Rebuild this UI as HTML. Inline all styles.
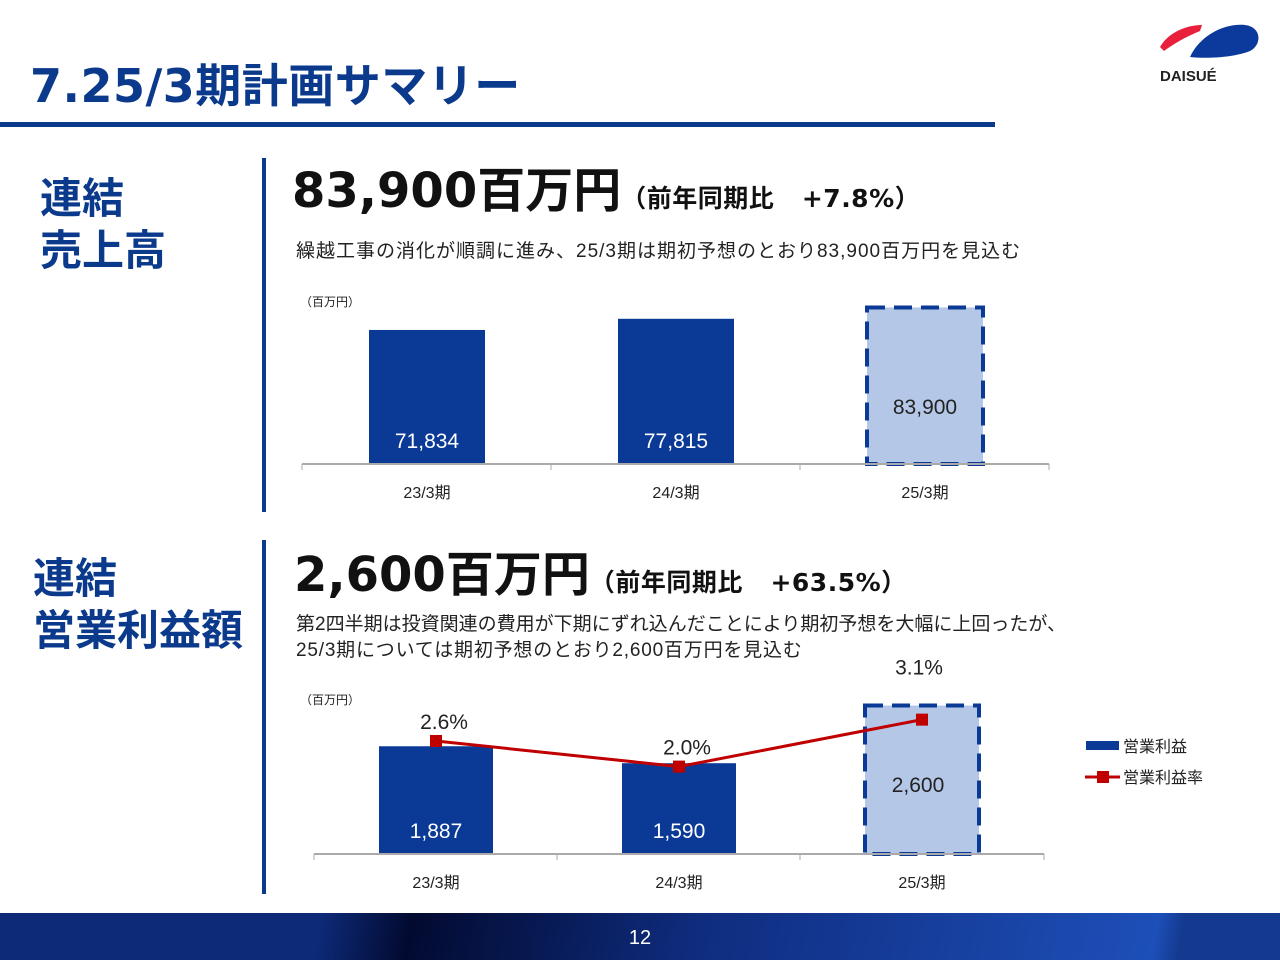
<!DOCTYPE html>
<html><head><meta charset="utf-8">
<style>
body{margin:0;width:1280px;height:960px;position:relative;overflow:hidden;background:#fff;font-family:"Liberation Sans","Noto Sans CJK JP",sans-serif;}
.a{position:absolute;white-space:nowrap;}
</style></head><body>
<div class="a" style="left:30px;top:50px;font-size:46px;font-weight:bold;color:#0b3a8c;font-family:'DejaVu Sans','Noto Sans CJK JP',sans-serif;letter-spacing:0.5px;">7.25/3期計画サマリー</div>
<div class="a" style="left:0;top:122px;width:995px;height:5px;background:#0b3a8c;"></div>
<svg class="a" style="left:1150px;top:15px" width="120" height="70">
<path d="M10,32 C20,15 40,10 52,10 L50,16 C35,22 22,30 14,36 Z" fill="#e8203c"/>
<path d="M40,42 C50,20 75,8 95,10 C112,12 112,30 100,36 C85,42 60,44 40,42 Z" fill="#0b3a9c"/>
<text x="10" y="66" font-size="15" font-weight="bold" fill="#222" font-family="Liberation Sans">DAISUÉ</text>
</svg>
<div class="a" style="left:40px;top:173px;font-size:42px;font-weight:bold;color:#0b3a8c;line-height:52px;">連結<br>売上高</div>
<div class="a" style="left:262px;top:158px;width:4px;height:354px;background:#0b3a8c;"></div>
<div class="a" style="left:292px;top:151px;font-size:48px;font-weight:bold;color:#111;font-family:'DejaVu Sans','Noto Sans CJK JP',sans-serif;">83,900百万円<span style="font-size:25px;letter-spacing:0.5px;">（前年同期比&nbsp;&nbsp; +7.8%）</span></div>
<div class="a" style="left:296px;top:236px;font-size:19px;color:#222;letter-spacing:1px;">繰越工事の消化が順調に進み、25/3期は期初予想のとおり83,900百万円を見込む</div>
<div class="a" style="left:33px;top:553px;font-size:42px;font-weight:bold;color:#0b3a8c;line-height:52px;">連結<br>営業利益額</div>
<div class="a" style="left:262px;top:540px;width:4px;height:354px;background:#0b3a8c;"></div>
<div class="a" style="left:294px;top:535px;font-size:48px;font-weight:bold;color:#111;font-family:'DejaVu Sans','Noto Sans CJK JP',sans-serif;">2,600百万円<span style="font-size:25px;letter-spacing:0.5px;">（前年同期比&nbsp;&nbsp; +63.5%）</span></div>
<div class="a" style="left:296px;top:612px;font-size:19px;color:#222;line-height:26px;">第2四半期は投資関連の費用が下期にずれ込んだことにより期初予想を大幅に上回ったが、<br><span style="letter-spacing:0.8px">25/3期については期初予想のとおり2,600百万円を見込む</span></div>
<svg class="a" id="charts" style="left:0;top:0" width="1280" height="960"></svg>
<div class="a" style="left:0;top:913px;width:1280px;height:47px;background:linear-gradient(100deg,#0d2a78 0%,#0d2a78 25%,#020a30 32%,#0f2d80 55%,#1d4fb8 90%,#143a90 92%,#143a90 100%);"></div>
<div class="a" style="left:620px;top:927px;width:40px;text-align:center;font-size:20px;color:#fff;">12</div>
<script>
const cats=["23/3期","24/3期","25/3期"];
const sales=[71834,77815,83900];
const salesLabels=["71,834","77,815","83,900"];
const profit=[1887,1590,2600];
const profitLabels=["1,887","1,590","2,600"];
const margin=[2.6,2.0,3.1];
const marginLabels=["2.6%","2.0%","3.1%"];
const NS="http://www.w3.org/2000/svg";
const svg=document.getElementById('charts');
function mk(t,a,p){const e=document.createElementNS(NS,t);for(const k in a)e.setAttribute(k,a[k]);(p||svg).appendChild(e);return e;}
function txt(x,y,s,size,fill,anchor){const e=mk('text',{x:x,y:y,'font-size':size,fill:fill,'text-anchor':anchor||'middle','font-family':'Liberation Sans, Noto Sans CJK JP, sans-serif'});e.textContent=s;return e;}
const x1=i=>427+i*249, base1=464, y1=v=>base1-v*0.001866, bw1=116;
txt(300,306,"（百万円）",12,"#222","start");
sales.forEach((v,i)=>{
 const fc=i==2;
 const r=mk('rect',{x:x1(i)-bw1/2,y:y1(v),width:bw1,height:base1-y1(v),fill:fc?'#b4c7e7':'#0b3a96',stroke:fc?'#0b3a96':'none','stroke-width':fc?4:0,'stroke-dasharray':fc?'18,9':'none'});
 
 
 const t=txt(x1(i),fc?414:448,salesLabels[i],21,fc?'#222':'#fff');
 
 const c=txt(x1(i),498,cats[i],16,'#222');
 
});
mk('line',{x1:302,x2:1049,y1:base1,y2:base1,stroke:'#aaa','stroke-width':2});
[302,551,800,1049].forEach(x=>mk('line',{x1:x,x2:x,y1:base1,y2:base1+6,stroke:'#aaa'}));
const x2=i=>436+i*243, base2=854, y2=v=>base2-v*0.0571, bw2=114, ym=v=>852-v*42.7;
txt(300,704,"（百万円）",12,"#222","start");
profit.forEach((v,i)=>{
 const fc=i==2;
 const r=mk('rect',{x:x2(i)-bw2/2,y:y2(v),width:bw2,height:base2-y2(v),fill:fc?'#b4c7e7':'#0b3a96',stroke:fc?'#0b3a96':'none','stroke-width':fc?4:0,'stroke-dasharray':fc?'18,9':'none'});
 
 
 const t=txt(x2(i)-(fc?4:0),fc?792:838,profitLabels[i],21,fc?'#222':'#fff');
 
 const c=txt(x2(i),888,cats[i],16,'#222');
 
});
mk('line',{x1:314,x2:1044,y1:base2,y2:base2,stroke:'#aaa','stroke-width':2});
[314,557,800,1044].forEach(x=>mk('line',{x1:x,x2:x,y1:base2,y2:base2+6,stroke:'#aaa'}));
const pl=mk('polyline',{points:margin.map((v,i)=>x2(i)+','+ym(v)).join(' '),fill:'none',stroke:'#c00000','stroke-width':3});

margin.forEach((v,i)=>{
 const m=mk('rect',{x:x2(i)-6,y:ym(v)-6,width:12,height:12,fill:'#c00000'});
 
 const off=i==2?45:12;
 const t=txt(x2(i)+(i==2?-3:8),ym(v)-off,marginLabels[i],21,'#222');
 
});
mk('rect',{x:1086,y:741,width:33,height:9,fill:'#0b3a96'});
txt(1123,752,"営業利益",16,"#222","start");
mk('line',{x1:1085,x2:1120,y1:777,y2:777,stroke:'#c00000','stroke-width':3});
mk('rect',{x:1097,y:771,width:12,height:12,fill:'#c00000'});
txt(1123,783,"営業利益率",16,"#222","start");
</script>
</body></html>
